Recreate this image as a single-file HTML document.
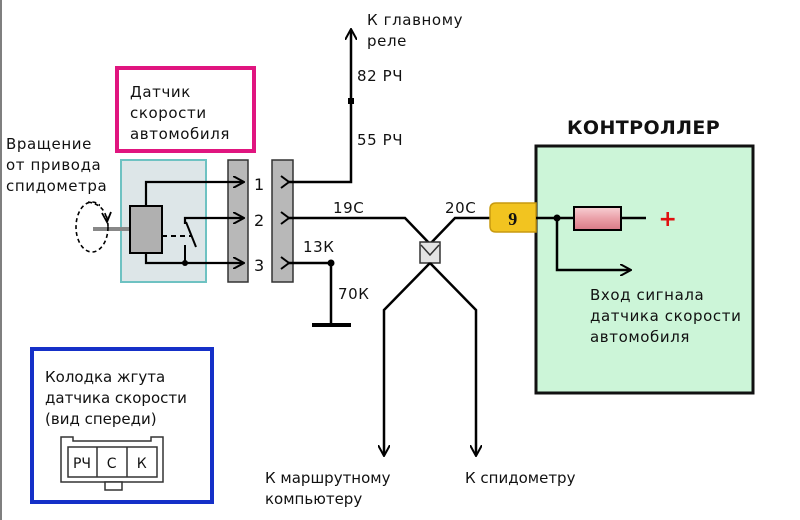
<!DOCTYPE html>
<html><head><meta charset="utf-8"><style>
html,body{margin:0;padding:0;background:#fff}
svg{display:block}
text{font-family:"DejaVu Sans","Liberation Sans",sans-serif;fill:#111;letter-spacing:0.6px}
</style></head><body>
<svg width="800" height="520" viewBox="0 0 800 520" xmlns="http://www.w3.org/2000/svg">
<defs>
<marker id="ar" markerWidth="12" markerHeight="12" refX="10" refY="6" orient="auto" markerUnits="userSpaceOnUse">
<path d="M0,0 L11,6 L0,12" fill="none" stroke="#000" stroke-width="2"/>
</marker>
<linearGradient id="rg" x1="0" y1="0" x2="0" y2="1">
<stop offset="0" stop-color="#f8d0d4"/><stop offset="0.5" stop-color="#eaa0a8"/><stop offset="1" stop-color="#d87a86"/>
</linearGradient>
</defs>
<line x1="1" y1="0" x2="1" y2="520" stroke="#555" stroke-width="1.5"/>

<!-- pink box -->
<rect x="117" y="68" width="137" height="83" fill="#fff" stroke="#e0157f" stroke-width="4"/>
<text x="130" y="97" font-size="15">Датчик</text>
<text x="130" y="118" font-size="15">скорости</text>
<text x="130" y="139" font-size="15">автомобиля</text>

<text x="6" y="149" font-size="15">Вращение</text>
<text x="6" y="170" font-size="15">от привода</text>
<text x="6" y="191" font-size="15">спидометра</text>

<!-- sensor -->
<rect x="121" y="160" width="85" height="122" fill="#dde6e8" stroke="#6ec2c2" stroke-width="2"/>
<line x1="93" y1="229" x2="130" y2="229" stroke="#888" stroke-width="4"/>
<ellipse cx="92" cy="227" rx="16" ry="25" fill="none" stroke="#000" stroke-width="1.6" stroke-dasharray="4,3"/>
<rect x="100" y="200" width="14" height="16" fill="#fff"/>
<path d="M88,202 Q104,204 107,220" fill="none" stroke="#000" stroke-width="1.6" stroke-dasharray="4,3"/>
<path d="M102,213 L107,222 L111,212" fill="none" stroke="#000" stroke-width="1.8"/>
<rect x="130" y="206" width="32" height="47" fill="#b0b0b0" stroke="#000" stroke-width="2"/>

<!-- connector bars -->
<rect x="228" y="160" width="20" height="122" fill="#b8b8b8" stroke="#333" stroke-width="1.5"/>
<rect x="272" y="160" width="21" height="122" fill="#b8b8b8" stroke="#333" stroke-width="1.5"/>

<polyline points="146,206 146,182 243,182" fill="none" stroke="#000" stroke-width="2.2" marker-end="url(#ar)"/>
<polyline points="185,224 185,218 243,218" fill="none" stroke="#000" stroke-width="2.2" marker-end="url(#ar)"/>
<line x1="162" y1="236" x2="192" y2="236" stroke="#000" stroke-width="2" stroke-dasharray="5,4"/>
<line x1="186" y1="222" x2="196" y2="247" stroke="#000" stroke-width="2"/>
<line x1="185" y1="245" x2="185" y2="263" stroke="#000" stroke-width="2"/>
<polyline points="146,253 146,263 243,263" fill="none" stroke="#000" stroke-width="2.2" marker-end="url(#ar)"/>
<circle cx="185" cy="263" r="3" fill="#000"/>

<text x="254" y="190" font-size="16">1</text>
<text x="254" y="226" font-size="16">2</text>
<text x="254" y="271" font-size="16">3</text>
<g fill="none" stroke="#000" stroke-width="2">
<path d="M281,176 L289,182 L281,188"/><path d="M281,212 L289,218 L281,224"/><path d="M281,257 L289,263 L281,269"/>
</g>

<!-- wire 1 up -->
<polyline points="289,182 351,182 351,30" fill="none" stroke="#000" stroke-width="2.5" marker-end="url(#ar)"/>
<rect x="348" y="98" width="6" height="6" fill="#000"/>
<text x="367" y="25" font-size="15">К главному</text>
<text x="367" y="46" font-size="15">реле</text>
<text x="357" y="81" font-size="15">82 РЧ</text>
<text x="357" y="145" font-size="15">55 РЧ</text>

<!-- wire 2 -->
<polyline points="289,218 405,218 430,244" fill="none" stroke="#000" stroke-width="2.5"/>
<polyline points="490,218 455,218 430,244" fill="none" stroke="#000" stroke-width="2.5"/>
<text x="333" y="213" font-size="15">19С</text>
<text x="445" y="213" font-size="15">20С</text>
<rect x="420" y="242" width="20" height="21" fill="#e4e4e4" stroke="#333" stroke-width="1.5"/>
<path d="M421,245 L430,255 L439,245" fill="none" stroke="#333" stroke-width="1.5"/>
<polyline points="430,263 384,310 384,455" fill="none" stroke="#000" stroke-width="2.5" marker-end="url(#ar)"/>
<polyline points="430,263 476,310 476,455" fill="none" stroke="#000" stroke-width="2.5" marker-end="url(#ar)"/>

<!-- wire 3 ground -->
<polyline points="289,263 331,263 331,325" fill="none" stroke="#000" stroke-width="2.5"/>
<circle cx="331" cy="263" r="3.5" fill="#000"/>
<line x1="312" y1="325" x2="351" y2="325" stroke="#000" stroke-width="4"/>
<text x="303" y="252" font-size="15">13К</text>
<text x="338" y="299" font-size="15">70К</text>

<!-- controller -->
<text x="567" y="134" font-size="19" font-weight="bold" style="letter-spacing:0.4px">КОНТРОЛЛЕР</text>
<rect x="536" y="146" width="217" height="247" fill="#ccf5d8" stroke="#111" stroke-width="3"/>
<path d="M496,203 L536,203 L536,232 L496,232 Q490,232 490,226 L490,209 Q490,203 496,203 Z" fill="#f2c420" stroke="#c89a10" stroke-width="1.5"/>
<text x="513" y="225" font-size="18" font-weight="bold" text-anchor="middle" style="font-family:'Liberation Serif',serif">9</text>
<line x1="536" y1="218" x2="646" y2="218" stroke="#000" stroke-width="2.5"/>
<circle cx="557" cy="218" r="3.5" fill="#000"/>
<rect x="574" y="207" width="47" height="23" fill="url(#rg)" stroke="#000" stroke-width="2"/>
<text x="668" y="226" font-size="22" font-weight="bold" text-anchor="middle" style="fill:#e01010">+</text>
<polyline points="557,218 557,270 630,270" fill="none" stroke="#000" stroke-width="2.5" marker-end="url(#ar)"/>
<text x="590" y="300" font-size="15">Вход сигнала</text>
<text x="590" y="321" font-size="15">датчика скорости</text>
<text x="590" y="342" font-size="15">автомобиля</text>

<!-- blue box -->
<rect x="32" y="349" width="180" height="153" fill="#fff" stroke="#1530c8" stroke-width="4"/>
<text x="45" y="382" font-size="15" style="letter-spacing:0">Колодка жгута</text>
<text x="45" y="403" font-size="15" style="letter-spacing:0">датчика скорости</text>
<text x="45" y="424" font-size="15" style="letter-spacing:0">(вид спереди)</text>
<path d="M61,437 L73,437 L73,441 L151,441 L151,437 L163,437 L163,482 L61,482 Z" fill="#fff" stroke="#333" stroke-width="1.5"/>
<rect x="105" y="482" width="17" height="8" fill="#fff" stroke="#333" stroke-width="1.5"/>
<rect x="68" y="447" width="89" height="30" fill="#fff" stroke="#333" stroke-width="1.5"/>
<line x1="97" y1="447" x2="97" y2="477" stroke="#333" stroke-width="1.5"/>
<line x1="127" y1="447" x2="127" y2="477" stroke="#333" stroke-width="1.5"/>
<text x="82" y="468" font-size="14" text-anchor="middle" style="letter-spacing:0">РЧ</text>
<text x="112" y="468" font-size="14" text-anchor="middle">С</text>
<text x="142" y="468" font-size="14" text-anchor="middle">К</text>

<text x="265" y="483" font-size="15" style="letter-spacing:0">К маршрутному</text>
<text x="265" y="504" font-size="15" style="letter-spacing:0">компьютеру</text>
<text x="465" y="483" font-size="15" style="letter-spacing:0">К спидометру</text>
</svg>
</body></html>
